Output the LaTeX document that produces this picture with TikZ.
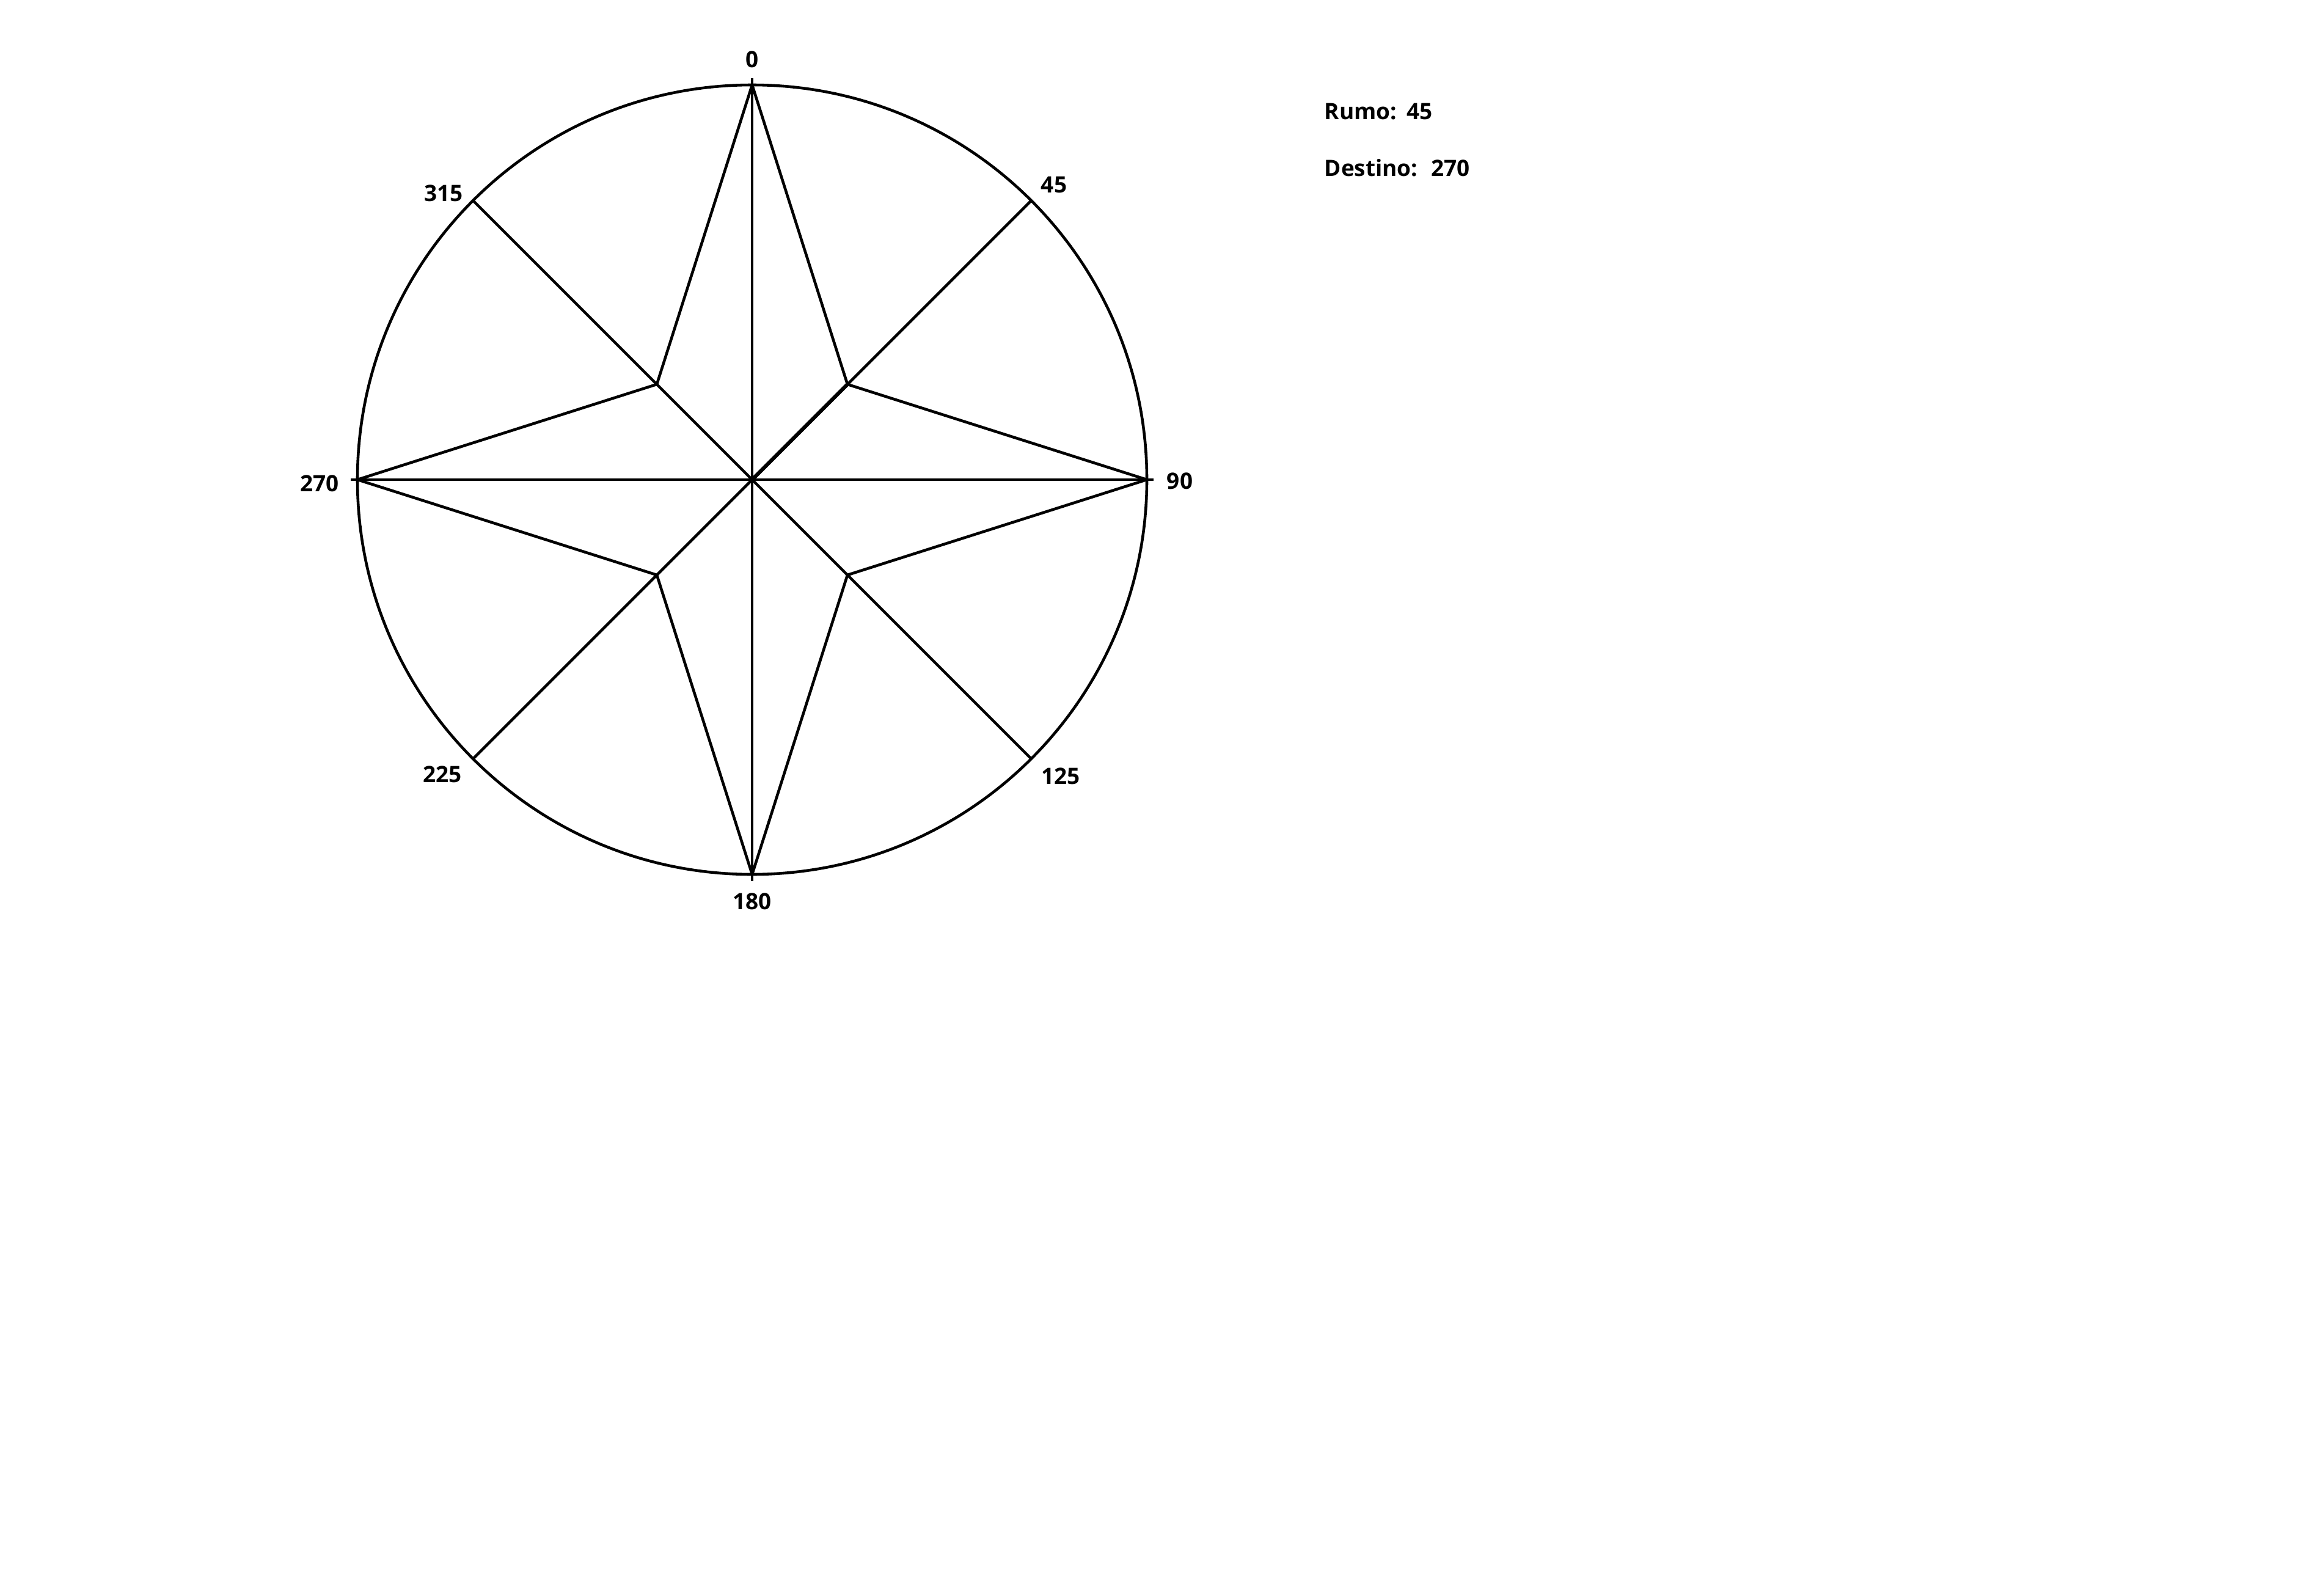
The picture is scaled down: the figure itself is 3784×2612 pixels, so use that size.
\documentclass[tikz,border=0pt]{standalone}
\usepackage{fontspec}
\setmainfont{Open Sans}
\begin{document}
\begin{tikzpicture}[x=0.01cm,y=-0.01cm,
  ln/.style={line width=1.3pt,black},
  lbl/.style={font=\bfseries\fontsize{10.5}{12}\selectfont,inner sep=0pt}]
\useasboundingbox (0,0) rectangle (3784,2612);
\fill[white] (0,0) rectangle (3784,2612);
% key points
\coordinate (C) at (1231,785);
\coordinate (N) at (1231,139);
\coordinate (E) at (1877,785);
\coordinate (S) at (1231,1431);
\coordinate (W) at (585,785);
\coordinate (Nx) at (1231,128);
\coordinate (Ex) at (1888,785);
\coordinate (Sx) at (1231,1442);
\coordinate (Wx) at (574,785);
\coordinate (iNE) at (1387,629);
\coordinate (iSE) at (1387,941);
\coordinate (iSW) at (1075,941);
\coordinate (iNW) at (1075,629);
\coordinate (rNE) at (1688,328);
\coordinate (rSE) at (1688,1242);
\coordinate (rSW) at (774,1242);
\coordinate (rNW) at (774,328);
% circle
\draw[ln] (C) circle[radius=646];
% cross
\draw[ln] (Nx) -- (Sx);
\draw[ln] (Wx) -- (Ex);
% diagonals
\draw[ln] (C) -- (rNE);
\draw[ln] (C) -- (rSE);
\draw[ln] (C) -- (rSW);
\draw[ln] (C) -- (rNW);
\draw[line width=1.8pt] (C) -- (iNE);
% star
\draw[ln,line join=miter] (N) -- (iNE) -- (E) -- (iSE) -- (S) -- (iSW) -- (W) -- (iNW) -- cycle;
% labels
\node[lbl] (l0) at (1231,97) {0};
\node[lbl] (l45) at (1725,302) {45};
\node[lbl] (l90) at (1931,787) {90};
\node[lbl] (l125) at (1736,1270) {125};
\node[lbl] (l180) at (1231,1475) {180};
\node[lbl] (l225) at (724,1267) {225};
\node[lbl] (l270) at (523,791) {270};
\node[lbl] (l315) at (726,316) {315};
\node[lbl,anchor=west] (rumo) at (2167,183) {Rumo:\hspace{0.45em}45};
\node[lbl,anchor=west] (dest) at (2167,275) {Destino:\hspace{0.6em}270};
\end{tikzpicture}
\end{document}
